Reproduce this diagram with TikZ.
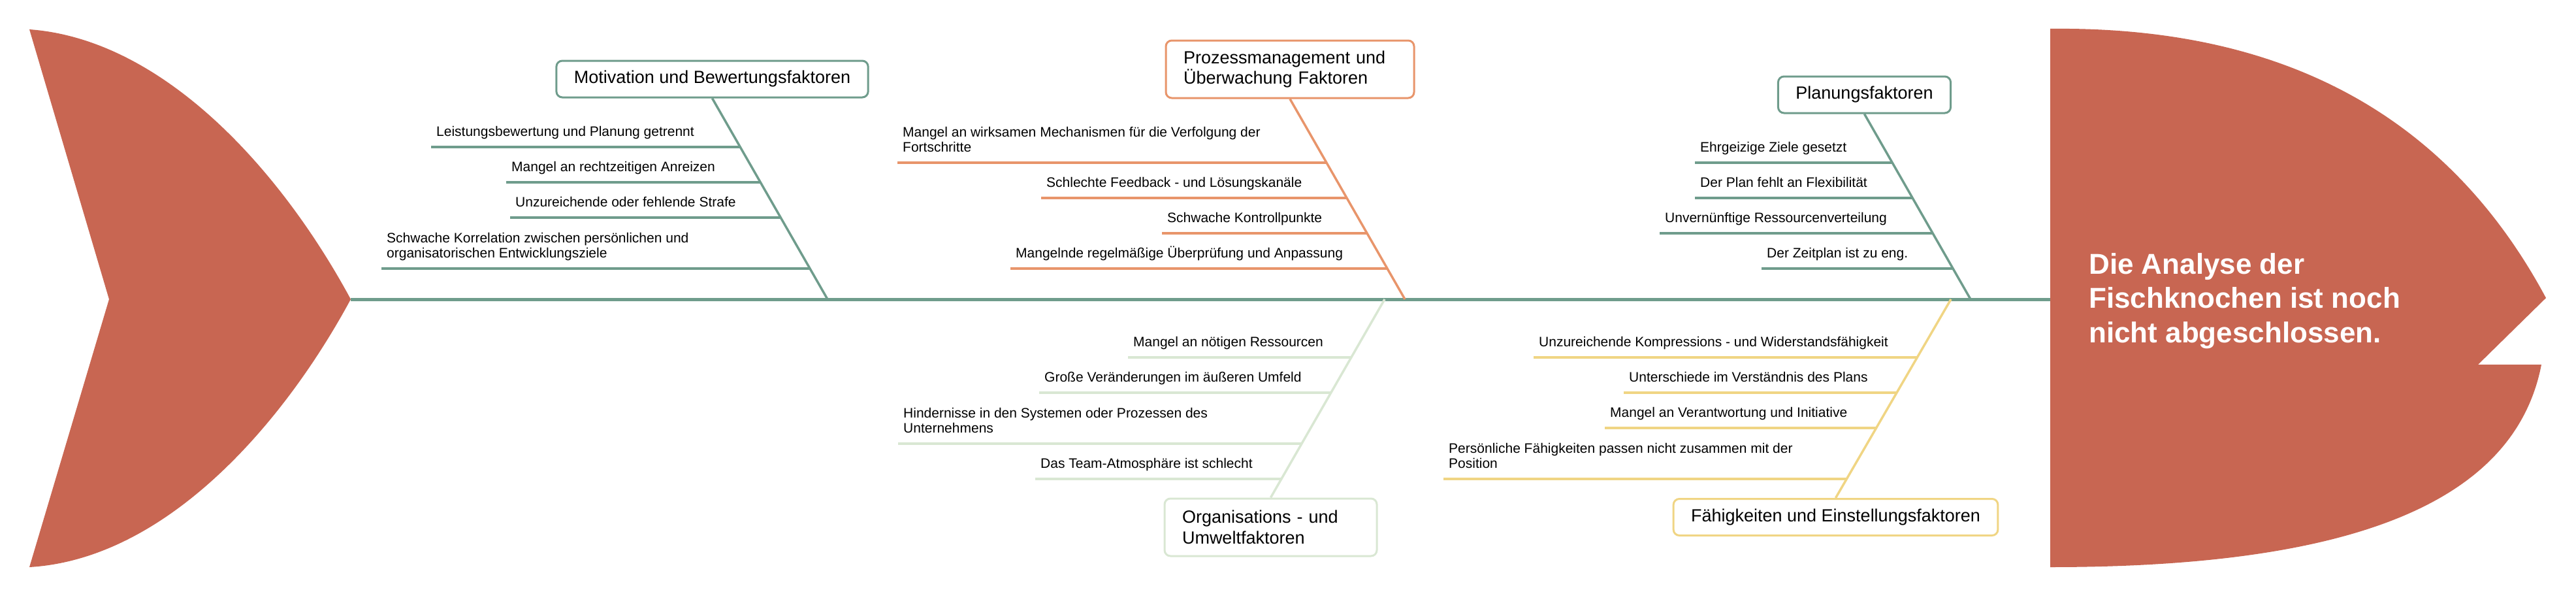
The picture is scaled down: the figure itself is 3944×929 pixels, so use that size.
\documentclass[tikz,border=0pt]{standalone}
\usepackage{fontspec}
\setmainfont{Liberation Sans}
\usepackage{tikz}
\usetikzlibrary{calc}
\definecolor{fishred}{HTML}{C86652}
\definecolor{bonegreen}{HTML}{6F9C8C}
\definecolor{boneorange}{HTML}{E8956B}
\definecolor{boneyellow}{HTML}{F0D584}
\definecolor{bonepale}{HTML}{D9E7D3}
\newcommand{\drawCauseLine}[3]{\draw[bone, #1] (#2.south west) -- (#2.south west -| #3);}
\tikzset{x=1pt, y=-1pt,
    spine/.style={line width=5pt, bonegreen},
    bone/.style={line width=3.5pt},
    factor/.style={draw=#1, fill=white, rounded corners=9pt, line width=3pt,
        inner xsep=27pt, minimum height=56pt, align=left,
        font=\fontsize{27pt}{31.7pt}\selectfont},
    cause/.style={anchor=south west, inner xsep=8pt, inner ysep=9pt,
        align=left, font=\fontsize{21pt}{23.3pt}\selectfont,
        execute at end node=\strut},
    headtext/.style={white, align=left, anchor=north west, inner sep=0pt,
        font=\bfseries\fontsize{44pt}{52.5pt}\selectfont}}

\begin{document}
\begin{tikzpicture}
\useasboundingbox (0,0) rectangle (3944,929);
% tail and head
\fill[fishred] (45,45) .. controls (250,60) and (430,260) .. (537,458)
    .. controls (430,656) and (250,856) .. (45,868) -- (167,458) -- cycle;
\fill[fishred] (3139,44) .. controls (3500,40) and (3750,180) .. (3898,456)
    -- (3794,558) -- (3891,558) .. controls (3850,770) and (3600,868) .. (3139,868) -- cycle;
\node[headtext] (head) at (3198,387) {Die Analyse der\\Fischknochen ist noch\\nicht abgeschlossen.};

% spine
\coordinate (tail) at (537,458);
\coordinate (neck) at (3139,458);
\draw[spine] (tail) -- (neck);
\coordinate (s1) at (1267,458);
\coordinate (s2) at (2151,458);
\coordinate (s3) at (3017,458);
\coordinate (s4) at (2120,458);
\coordinate (s5) at (2987,458);

% factor boxes
\node[factor=bonegreen] (b1) at (1090.5,121) {Motivation und Bewertungsfaktoren};
\node[factor=boneorange, text width=326pt, minimum height=88pt] (b2) at (1975,106) {Prozessmanagement und\\Überwachung Faktoren};
\node[factor=bonegreen] (b3) at (2854.5,145) {Planungsfaktoren};
\node[factor=bonepale, text width=271pt, minimum height=88pt] (b4) at (1945.5,807) {Organisations - und\\Umweltfaktoren};
\node[factor=boneyellow] (b5) at (2810.5,791.5) {Fähigkeiten und Einstellungsfaktoren};

\draw[bone, bonegreen] (b1.south) -- (s1);
\draw[bone, boneorange] (b2.south) -- (s2);
\draw[bone, bonegreen] (b3.south) -- (s3);
\draw[bone, bonepale] (s4) -- (b4.north);
\draw[bone, boneyellow] (s5) -- (b5.north);

% motivation
\coordinate (c11) at ($(b1.south)!0.246!(s1)$);
\coordinate (c12) at ($(b1.south)!0.421!(s1)$);
\coordinate (c13) at ($(b1.south)!0.595!(s1)$);
\coordinate (c14) at ($(b1.south)!0.848!(s1)$);
\node[cause] (t11) at (660,225) {Leistungsbewertung und Planung getrennt};
\node[cause] (t12) at (775,279) {Mangel an rechtzeitigen Anreizen};
\node[cause] (t13) at (781,333) {Unzureichende oder fehlende Strafe};
\node[cause] (t14) at (584,411) {Schwache Korrelation zwischen persönlichen und\\organisatorischen Entwicklungsziele};
\drawCauseLine{bonegreen}{t11}{c11}
\drawCauseLine{bonegreen}{t12}{c12}
\drawCauseLine{bonegreen}{t13}{c13}
\drawCauseLine{bonegreen}{t14}{c14}

% prozess
\coordinate (c21) at ($(b2.south)!0.321!(s2)$);
\coordinate (c22) at ($(b2.south)!0.497!(s2)$);
\coordinate (c23) at ($(b2.south)!0.672!(s2)$);
\coordinate (c24) at ($(b2.south)!0.847!(s2)$);
\node[cause] (t21) at (1374,249) {Mangel an wirksamen Mechanismen für die Verfolgung der\\Fortschritte};
\node[cause] (t22) at (1594,303) {Schlechte Feedback - und Lösungskanäle};
\node[cause] (t23) at (1779,357) {Schwache Kontrollpunkte};
\node[cause] (t24) at (1547,411) {Mangelnde regelmäßige Überprüfung und Anpassung};
\drawCauseLine{boneorange}{t21}{c21}
\drawCauseLine{boneorange}{t22}{c22}
\drawCauseLine{boneorange}{t23}{c23}
\drawCauseLine{boneorange}{t24}{c24}

% planung
\coordinate (c31) at ($(b3.south)!0.267!(s3)$);
\coordinate (c32) at ($(b3.south)!0.456!(s3)$);
\coordinate (c33) at ($(b3.south)!0.646!(s3)$);
\coordinate (c34) at ($(b3.south)!0.835!(s3)$);
\node[cause] (t31) at (2595,249) {Ehrgeizige Ziele gesetzt};
\node[cause] (t32) at (2595,303) {Der Plan fehlt an Flexibilität};
\node[cause] (t33) at (2541,357) {Unvernünftige Ressourcenverteilung};
\node[cause] (t34) at (2697,411) {Der Zeitplan ist zu eng.};
\drawCauseLine{bonegreen}{t31}{c31}
\drawCauseLine{bonegreen}{t32}{c32}
\drawCauseLine{bonegreen}{t33}{c33}
\drawCauseLine{bonegreen}{t34}{c34}

% organisation
\coordinate (c41) at ($(s4)!0.292!(b4.north)$);
\coordinate (c42) at ($(s4)!0.469!(b4.north)$);
\coordinate (c43) at ($(s4)!0.725!(b4.north)$);
\coordinate (c44) at ($(s4)!0.902!(b4.north)$);
\node[cause] (t41) at (1727,547) {Mangel an nötigen Ressourcen};
\node[cause] (t42) at (1591,601) {Große Veränderungen im äußeren Umfeld};
\node[cause] (t43) at (1375,679) {Hindernisse in den Systemen oder Prozessen des\\Unternehmens};
\node[cause] (t44) at (1585,733) {Das Team-Atmosphäre ist schlecht};
\drawCauseLine{bonepale}{t41}{c41}
\drawCauseLine{bonepale}{t42}{c42}
\drawCauseLine{bonepale}{t43}{c43}
\drawCauseLine{bonepale}{t44}{c44}

% faehigkeiten
\coordinate (c51) at ($(s5)!0.292!(b5.north)$);
\coordinate (c52) at ($(s5)!0.469!(b5.north)$);
\coordinate (c53) at ($(s5)!0.646!(b5.north)$);
\coordinate (c54) at ($(s5)!0.902!(b5.north)$);
\node[cause] (t51) at (2348,547) {Unzureichende Kompressions - und Widerstandsfähigkeit};
\node[cause] (t52) at (2486,601) {Unterschiede im Verständnis des Plans};
\node[cause] (t53) at (2457,655) {Mangel an Verantwortung und Initiative};
\node[cause] (t54) at (2210,733) {Persönliche Fähigkeiten passen nicht zusammen mit der\\Position};
\drawCauseLine{boneyellow}{t51}{c51}
\drawCauseLine{boneyellow}{t52}{c52}
\drawCauseLine{boneyellow}{t53}{c53}
\drawCauseLine{boneyellow}{t54}{c54}
\end{tikzpicture}
\end{document}
